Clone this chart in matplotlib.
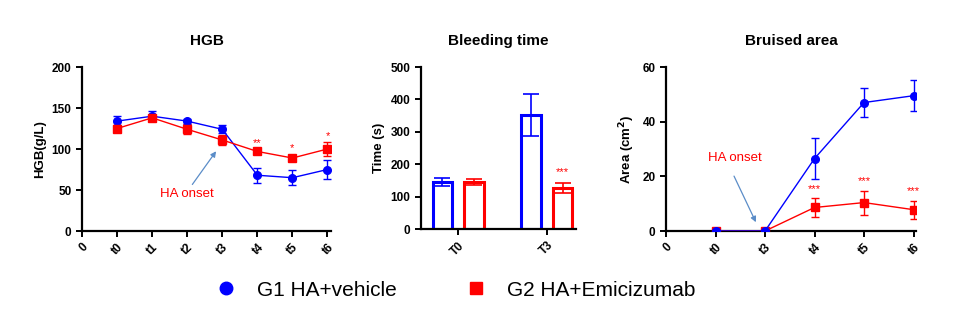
import matplotlib
matplotlib.use("Agg")
import matplotlib.pyplot as plt
import numpy as np

plt.rcParams['font.family'] = ['Liberation Sans', 'DejaVu Sans']

BLUE = '#0000FF'
RED = '#FF0000'
ARROW = '#5B8DC8'

# ---- HGB ----
hgb_labels = ['0', 't0', 't1', 't2', 't3', 't4', 't5', 't6']
hgb_g1 = [134, 140, 134, 124, 68, 65, 75]
hgb_g1_err = [6, 6, 3, 5, 9, 9, 12]
hgb_g2 = [125, 138, 124, 111, 97, 89, 100]
hgb_g2_err = [4, 4, 6, 6, 3, 4, 8]
hgb_stars = ['', '', '', '', '**', '*', '*']

# ---- Bleeding time ----
bt_labels = ['T0', 'T3']
bt_g1 = [145, 352]
bt_g1_err = [12, 66]
bt_g2 = [145, 127]
bt_g2_err = [8, 15]
bt_stars = ['', '***']

# ---- Bruised area ----
ba_labels = ['0', 't0', 't3', 't4', 't5', 't6']
ba_g1 = [0, 0, 26.5, 47, 49.5]
ba_g1_err = [0, 0, 7.4, 5.2, 5.7]
ba_g2 = [0, 0, 8.6, 10.4, 7.8]
ba_g2_err = [0, 0, 3.5, 4.4, 3.3]
ba_stars = ['', '', '***', '***', '***']

W, H = 955, 325
fig = plt.figure(figsize=(W / 100, H / 100), dpi=100)

def px_axes(l, r, t, b):
    return fig.add_axes([l / W, 1 - b / H, (r - l) / W, (b - t) / H])

def style(ax):
    for s in ['top', 'right']:
        ax.spines[s].set_visible(False)
    for s in ['left', 'bottom']:
        ax.spines[s].set_linewidth(1.6)
    ax.tick_params(width=1.4, length=4, labelsize=8.5)
    for lab in ax.get_yticklabels() + ax.get_xticklabels():
        lab.set_fontweight('bold')

def rot(ax):
    for lab in ax.get_xticklabels():
        lab.set_rotation(45)
        lab.set_ha('right')
        lab.set_rotation_mode('anchor')

def stars(ax, xs, ys, errs, marks, size=8, off=1):
    for x, y, e, m in zip(xs, ys, errs, marks):
        if m:
            ax.annotate(m, (x, y + e), xytext=(0, off), textcoords='offset points',
                        ha='center', va='bottom', color=RED, fontsize=size)

# HGB panel
ax1 = px_axes(82, 331, 67, 231)
x1 = np.arange(1, len(hgb_labels))
ax1.errorbar(x1, hgb_g1, yerr=hgb_g1_err, color=BLUE, marker='o', ms=5.5, lw=1,
             capsize=3, elinewidth=1, capthick=1, zorder=3)
ax1.errorbar(x1, hgb_g2, yerr=hgb_g2_err, color=RED, marker='s', ms=5.5, lw=1,
             capsize=3, elinewidth=1, capthick=1, zorder=3)
ax1.set_xlim(0, 7.1)
ax1.set_ylim(0, 200)
ax1.set_yticks([0, 50, 100, 150, 200])
ax1.set_xticks(np.arange(len(hgb_labels)))
ax1.set_xticklabels(hgb_labels)
ax1.set_ylabel('HGB(g/L)', fontsize=9.5, fontweight='bold')
ax1.set_title('HGB', fontsize=11, fontweight='bold', pad=16)
style(ax1); rot(ax1)
stars(ax1, x1, hgb_g2, hgb_g2_err, hgb_stars)
ax1.annotate('', xy=(3.87, 100), xytext=(3.1, 54),
             arrowprops=dict(arrowstyle='-|>', color=ARROW, lw=0.9, mutation_scale=8))
ax1.text(3.0, 45, 'HA onset', color=RED, fontsize=9.5, ha='center', va='center')

# Bleeding time panel
ax2 = px_axes(421, 576, 67, 229)
x2 = np.arange(len(bt_labels))
off = 0.18
bw = 0.22
ax2.bar(x2 - off, bt_g1, width=bw, facecolor='none', edgecolor=BLUE, linewidth=2.2)
ax2.bar(x2 + off, bt_g2, width=bw, facecolor='none', edgecolor=RED, linewidth=2.2)
ax2.errorbar(x2 - off, bt_g1, yerr=bt_g1_err, fmt='none', ecolor=BLUE, capsize=6,
             elinewidth=1.2, capthick=1.2)
ax2.errorbar(x2 + off, bt_g2, yerr=bt_g2_err, fmt='none', ecolor=RED, capsize=6,
             elinewidth=1.2, capthick=1.2)
ax2.set_xlim(-0.42, 1.33)
ax2.set_ylim(0, 500)
ax2.set_yticks([0, 100, 200, 300, 400, 500])
ax2.set_xticks(x2)
ax2.set_xticklabels(bt_labels)
ax2.set_ylabel('Time (s)', fontsize=9.5, fontweight='bold')
ax2.set_title('Bleeding time', fontsize=11, fontweight='bold', pad=16)
style(ax2); rot(ax2)
stars(ax2, x2 + off, bt_g2, bt_g2_err, bt_stars, off=4)

# Bruised area panel
ax3 = px_axes(666, 916, 67, 231)
x3 = np.arange(1, len(ba_labels))
ax3.errorbar(x3, ba_g2, yerr=ba_g2_err, color=RED, marker='s', ms=5.5, lw=1,
             capsize=3, elinewidth=1, capthick=1, zorder=3)
ax3.errorbar(x3, ba_g1, yerr=ba_g1_err, color=BLUE, marker='o', ms=5.5, lw=1,
             capsize=3, elinewidth=1, capthick=1, zorder=4)
ax3.set_xlim(0, 5.05)
ax3.set_ylim(0, 60)
ax3.set_yticks([0, 20, 40, 60])
ax3.set_xticks(np.arange(len(ba_labels)))
ax3.set_xticklabels(ba_labels)
ax3.set_ylabel('Area (cm$^{\\mathbf{2}}$)', fontsize=9.5, fontweight='bold')
ax3.set_title('Bruised area', fontsize=11, fontweight='bold', pad=16)
style(ax3); rot(ax3)
stars(ax3, x3, ba_g2, ba_g2_err, ba_stars, off=3)
ax3.annotate('', xy=(1.84, 2.3), xytext=(1.35, 21),
             arrowprops=dict(arrowstyle='-|>', color=ARROW, lw=0.9, mutation_scale=8))
ax3.text(1.4, 26.7, 'HA onset', color=RED, fontsize=9.5, ha='center', va='center')

# Legend
h1 = plt.Line2D([], [], color=BLUE, marker='o', ls='none', ms=9)
h2 = plt.Line2D([], [], color=RED, marker='s', ls='none', ms=8)
fig.legend([h1, h2], ['G1 HA+vehicle', 'G2 HA+Emicizumab'], loc='center',
           bbox_to_anchor=(0.4715, 1 - 290 / H), ncol=2, frameon=False, fontsize=15,
           handletextpad=0.5, columnspacing=2.8)

fig.savefig('out.png', dpi=100)
